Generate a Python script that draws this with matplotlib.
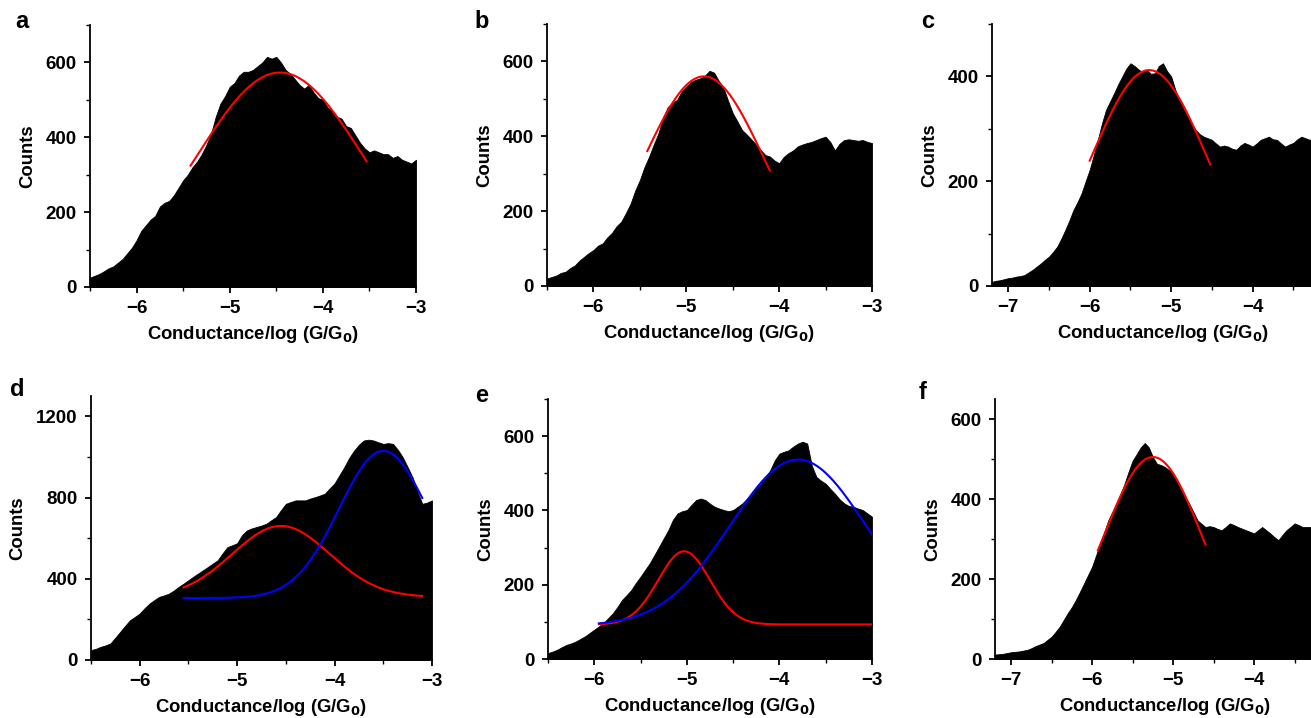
import numpy as np
import matplotlib
matplotlib.use('Agg')
import matplotlib.pyplot as plt
from matplotlib.ticker import MultipleLocator, FixedLocator

plt.rcParams['font.family'] = ['Liberation Sans', 'DejaVu Sans']
plt.rcParams['font.weight'] = 'bold'

# histogram envelopes, 0.05 step in log(G/G0)
x_a = np.round(np.arange(-6.5, -2.99, 0.05), 2)
counts_a = [25, 30, 35, 42, 50, 55, 65, 75, 90, 105, 125, 150, 165, 180, 190, 215, 225, 230,
            245, 265, 285, 300, 320, 335, 355, 380, 410, 455, 490, 510, 535, 545, 565, 575,
            575, 580, 590, 600, 615, 610, 615, 600, 580, 570, 555, 540, 530, 540, 520, 505,
            500, 480, 470, 455, 450, 430, 425, 405, 385, 370, 360, 365, 360, 355, 355, 345,
            350, 340, 335, 330, 340]

x_b = np.round(np.arange(-6.5, -2.99, 0.05), 2)
counts_b = [20, 24, 28, 35, 38, 48, 55, 68, 78, 88, 96, 108, 114, 130, 142, 160, 172, 195,
            220, 255, 283, 318, 346, 378, 408, 450, 478, 490, 497, 520, 533, 545, 551, 555,
            562, 575, 570, 548, 530, 495, 462, 440, 417, 405, 392, 378, 364, 350, 346, 335,
            328, 345, 355, 362, 373, 378, 382, 385, 390, 395, 399, 385, 362, 380, 390, 392,
            390, 388, 390, 385, 382]

x_c = np.round(np.arange(-7.2, -2.99, 0.05), 2)
counts_c = [8, 10, 11, 13, 15, 16, 18, 19, 21, 26, 31, 37, 43, 50, 56, 65, 75, 90, 107, 125,
            145, 160, 177, 200, 222, 250, 279, 310, 336, 352, 368, 385, 400, 415, 425, 420,
            413, 408, 413, 405, 406, 420, 425, 410, 400, 375, 355, 338, 324, 310, 298, 290,
            285, 282, 279, 272, 266, 268, 266, 262, 260, 268, 273, 270, 266, 272, 279, 282,
            285, 280, 279, 272, 266, 270, 273, 280, 285, 282, 279, 282, 280, 278, 281, 279, 280]

x_d = np.round(np.arange(-6.5, -2.99, 0.05), 2)
counts_d = [49, 55, 65, 72, 82, 110, 139, 168, 196, 212, 229, 255, 278, 295, 311, 318, 327,
            342, 360, 376, 393, 410, 426, 442, 458, 475, 491, 525, 556, 565, 575, 615, 638,
            648, 655, 662, 671, 688, 704, 738, 769, 778, 786, 786, 786, 795, 802, 810, 819,
            845, 870, 910, 950, 995, 1031, 1060, 1081, 1085, 1081, 1072, 1064, 1068, 1064,
            1035, 998, 950, 900, 830, 769, 775, 786]

x_e = np.round(np.arange(-6.5, -2.99, 0.05), 2)
counts_e = [16, 20, 25, 32, 38, 42, 47, 54, 61, 70, 79, 88, 97, 110, 123, 140, 159, 172, 186,
            205, 222, 240, 258, 280, 302, 325, 347, 375, 392, 398, 401, 415, 428, 432, 428,
            418, 410, 405, 401, 398, 401, 410, 419, 432, 445, 460, 472, 490, 508, 535, 553,
            558, 562, 572, 580, 585, 580, 520, 490, 480, 472, 458, 445, 430, 419, 412, 410,
            405, 401, 392, 383]

x_f = np.round(np.arange(-7.2, -2.99, 0.05), 2)
counts_f = [11, 12, 13, 15, 17, 18, 19, 21, 23, 27, 32, 36, 40, 48, 56, 68, 81, 98, 115, 130,
            148, 168, 189, 210, 231, 260, 289, 318, 347, 368, 388, 412, 438, 468, 496, 512,
            529, 540, 529, 505, 488, 485, 480, 472, 463, 442, 421, 405, 388, 368, 347, 338,
            330, 332, 330, 325, 322, 330, 339, 335, 330, 326, 322, 318, 314, 322, 330, 322,
            314, 305, 297, 310, 322, 330, 339, 335, 330, 330, 330, 332, 330, 328, 330, 331, 330]

# gaussian fits: (start, end, centre, width, amplitude, baseline, colour)
fits_a = [(-5.42, -3.53, -4.46, 0.90, 573, 0, 'red')]
fits_b = [(-5.42, -4.10, -4.81, 0.65, 560, 0, 'red')]
fits_c = [(-6.00, -4.52, -5.27, 0.70, 412, 0, 'red')]
fits_d = [(-5.55, -3.10, -4.55, 0.50, 350, 310, 'red'),
          (-5.55, -3.10, -3.50, 0.455, 725, 305, 'blue')]
fits_e = [(-5.95, -3.00, -5.03, 0.28, 197, 93, 'red'),
          (-5.95, -3.00, -3.80, 0.73, 447, 90, 'blue')]
fits_f = [(-5.93, -4.60, -5.25, 0.61, 505, 0, 'red')]

ticks_a = [-6, -5, -4, -3]
ticks_c = [-7, -6, -5, -4]

W, H = 1311, 718
fig = plt.figure(figsize=(W / 100, H / 100), dpi=100)


def make_ax(box):
    l, t, r, b = box
    return fig.add_axes([l / W, 1 - b / H, (r - l) / W, (b - t) / H])


panels = [
    ('a', (90, 25, 416, 287), x_a, counts_a, fits_a, (-6.5, -3), ticks_a, (0, 700), 200, 100, (22, 21)),
    ('b', (547, 24, 872, 286), x_b, counts_b, fits_b, (-6.5, -3), ticks_a, (0, 700), 200, 100, (482, 21)),
    ('c', (992, 24, 1334, 286), x_c, counts_c, fits_c, (-7.2, -3), ticks_c, (0, 500), 200, 100, (928, 22)),
    ('d', (91, 396, 432, 660), x_d, counts_d, fits_d, (-6.5, -3), ticks_a, (0, 1300), 400, 200, (17, 390)),
    ('e', (548, 399, 872, 659), x_e, counts_e, fits_e, (-6.5, -3), ticks_a, (0, 700), 200, 100, (482, 395)),
    ('f', (995, 399, 1335, 659), x_f, counts_f, fits_f, (-7.2, -3), ticks_c, (0, 650), 200, 100, (923, 393)),
]

for letter, box, xs, ys, fits, xlim, xticks, ylim, ymaj, ymin, lpos in panels:
    ax = make_ax(box)
    ax.fill_between(xs, 0, ys, color='black', lw=0.6, edgecolor='black')
    for x0, x1, mu, s, amp, base, col in fits:
        xx = np.linspace(x0, x1, 200)
        ax.plot(xx, base + amp * np.exp(-(xx - mu) ** 2 / (2 * s ** 2)), color=col, lw=1.5)
    ax.set_xlim(*xlim)
    ax.set_ylim(*ylim)
    ax.xaxis.set_major_locator(FixedLocator(xticks))
    ax.xaxis.set_minor_locator(MultipleLocator(0.5))
    ax.yaxis.set_major_locator(MultipleLocator(ymaj))
    ax.yaxis.set_minor_locator(MultipleLocator(ymin))
    for side in ['top', 'right']:
        ax.spines[side].set_visible(False)
    for side in ['left', 'bottom']:
        ax.spines[side].set_linewidth(1.3)
    ax.tick_params(which='major', direction='out', length=4.5, width=1.3, labelsize=13.5, pad=5)
    ax.tick_params(which='minor', direction='out', length=3, width=1.0)
    for lab in ax.get_xticklabels() + ax.get_yticklabels():
        lab.set_fontweight('bold')
    ax.set_xlabel('Conductance/log (G/G$_\\mathbf{0}$)', fontsize=13.3, fontweight='bold', labelpad=5)
    ax.set_ylabel('Counts', fontsize=13.3, fontweight='bold', labelpad=7)
    fig.text(lpos[0] / W, 1 - lpos[1] / H, letter, fontsize=17, fontweight='bold',
             ha='center', va='center')

fig.savefig('out.png', dpi=100)
